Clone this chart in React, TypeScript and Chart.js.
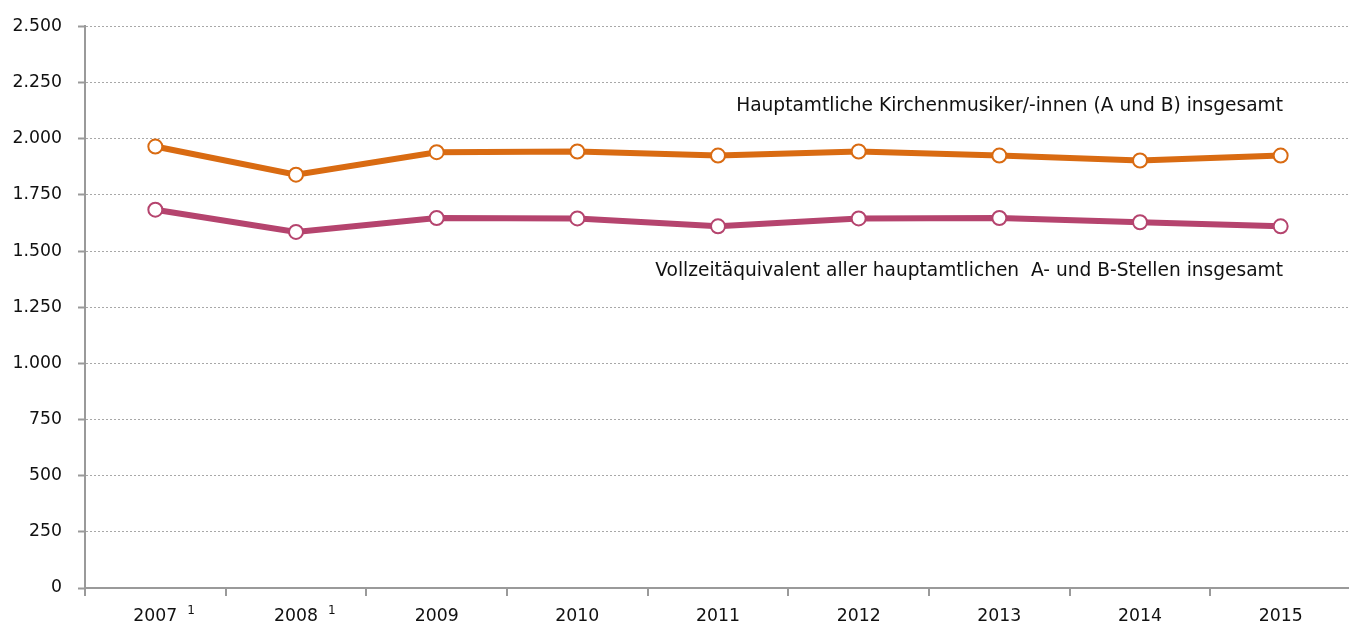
import React, { useEffect, useRef } from "react";
import { Chart, registerables } from "chart.js";

Chart.register(...registerables);

const years = ["2007", "2008", "2009", "2010", "2011", "2012", "2013", "2014", "2015"];
const footnoteYears = ["2007", "2008"];
const footnoteMark = "1";
const musicians = [1965, 1840, 1940, 1943, 1925, 1943, 1925, 1903, 1925];
const fte = [1684, 1585, 1647, 1645, 1610, 1645, 1647, 1628, 1610];
const yMin = 0;
const yMax = 2500;
const yStep = 250;
const musiciansLabel = "Hauptamtliche Kirchenmusiker/-innen (A und B) insgesamt";
const fteLabel = "Vollzeitäquivalent aller hauptamtlichen  A- und B-Stellen insgesamt";
const musiciansLabelAt = 2125;
const fteLabelAt = 1388;

const ORANGE = "#D96B12";
const PURPLE = "#B5446E";
const TEXT = "#111111";
const FONT = "'DejaVu Sans', 'Noto Sans', sans-serif";
const TICK_SIZE = 17.3;
const NOTE_SIZE = 18.6;

const fmt = (v: number) => String(v).replace(/\B(?=(\d{3})+(?!\d))/g, ".");

const annotationPlugin = {
  id: "annotations",
  afterDraw(chart: any) {
    const { ctx, chartArea, scales } = chart;
    const y = scales.y;
    const x = scales.x;
    ctx.save();
    ctx.fillStyle = TEXT;
    ctx.font = `${NOTE_SIZE}px ${FONT}`;
    ctx.textAlign = "right";
    ctx.textBaseline = "alphabetic";
    const rightX = chartArea.right - 68;
    ctx.fillText(musiciansLabel, rightX, y.getPixelForValue(musiciansLabelAt));
    ctx.fillText(fteLabel, rightX, y.getPixelForValue(fteLabelAt));
    years.forEach((yr, i) => {
      if (!footnoteYears.includes(yr)) return;
      ctx.font = `${TICK_SIZE}px ${FONT}`;
      const w = ctx.measureText(yr).width;
      const cx = x.getPixelForValue(i);
      ctx.font = `12px ${FONT}`;
      ctx.textAlign = "left";
      ctx.fillText(footnoteMark, cx + w / 2 + 10, chartArea.bottom + 26);
    });
    ctx.restore();
  },
};

export default function App() {
  const ref = useRef<HTMLCanvasElement | null>(null);
  useEffect(() => {
    if (!ref.current) return;
    const chart = new Chart(ref.current, {
      type: "line",
      data: {
        labels: years,
        datasets: [
          {
            label: musiciansLabel,
            data: musicians,
            borderColor: ORANGE,
            backgroundColor: ORANGE,
            borderWidth: 6,
            pointRadius: 7,
            pointBorderWidth: 2,
            pointBackgroundColor: "#ffffff",
            pointBorderColor: ORANGE,
            tension: 0,
          },
          {
            label: fteLabel,
            data: fte,
            borderColor: PURPLE,
            backgroundColor: PURPLE,
            borderWidth: 6,
            pointRadius: 7,
            pointBorderWidth: 2,
            pointBackgroundColor: "#ffffff",
            pointBorderColor: PURPLE,
            tension: 0,
          },
        ],
      },
      options: {
        animation: false,
        responsive: true,
        maintainAspectRatio: false,
        layout: { padding: { top: 24, right: 5, left: 0, bottom: 0 } },
        plugins: {
          legend: { display: false },
          tooltip: { enabled: false },
        },
        scales: {
          x: {
            offset: true,
            grid: {
              display: true,
              offset: true,
              drawOnChartArea: false,
              drawTicks: true,
              tickLength: 8,
              color: "#9a9a9a",
              lineWidth: 2,
            },
            border: { display: true, color: "#9a9a9a", width: 2 },
            ticks: {
              color: TEXT,
              font: { family: FONT, size: TICK_SIZE },
              padding: 10,
              maxRotation: 0,
            },
            afterFit: (s: any) => {
              s.height = 37;
            },
          },
          y: {
            min: yMin,
            max: yMax,
            grid: {
              color: "#a8a8a8",
              lineWidth: 1,
              tickLength: 7,
              tickColor: "#9a9a9a",
              tickWidth: 2,
            },
            border: { display: true, color: "#9a9a9a", width: 2, dash: [2, 2] },
            ticks: {
              stepSize: yStep,
              color: TEXT,
              font: { family: FONT, size: TICK_SIZE },
              padding: 16,
              callback: (v: any) => fmt(Number(v)),
            },
            afterFit: (s: any) => {
              s.width = 85;
            },
          },
        },
      },
      plugins: [annotationPlugin],
    });
    return () => chart.destroy();
  }, []);

  return (
    <>
      <style>{"html,body{margin:0;padding:0;overflow:hidden;background:#fff}"}</style>
      <div style={{ position: "absolute", left: 0, top: 0, width: 1360, height: 625 }}>
        <canvas ref={ref} />
      </div>
    </>
  );
}
